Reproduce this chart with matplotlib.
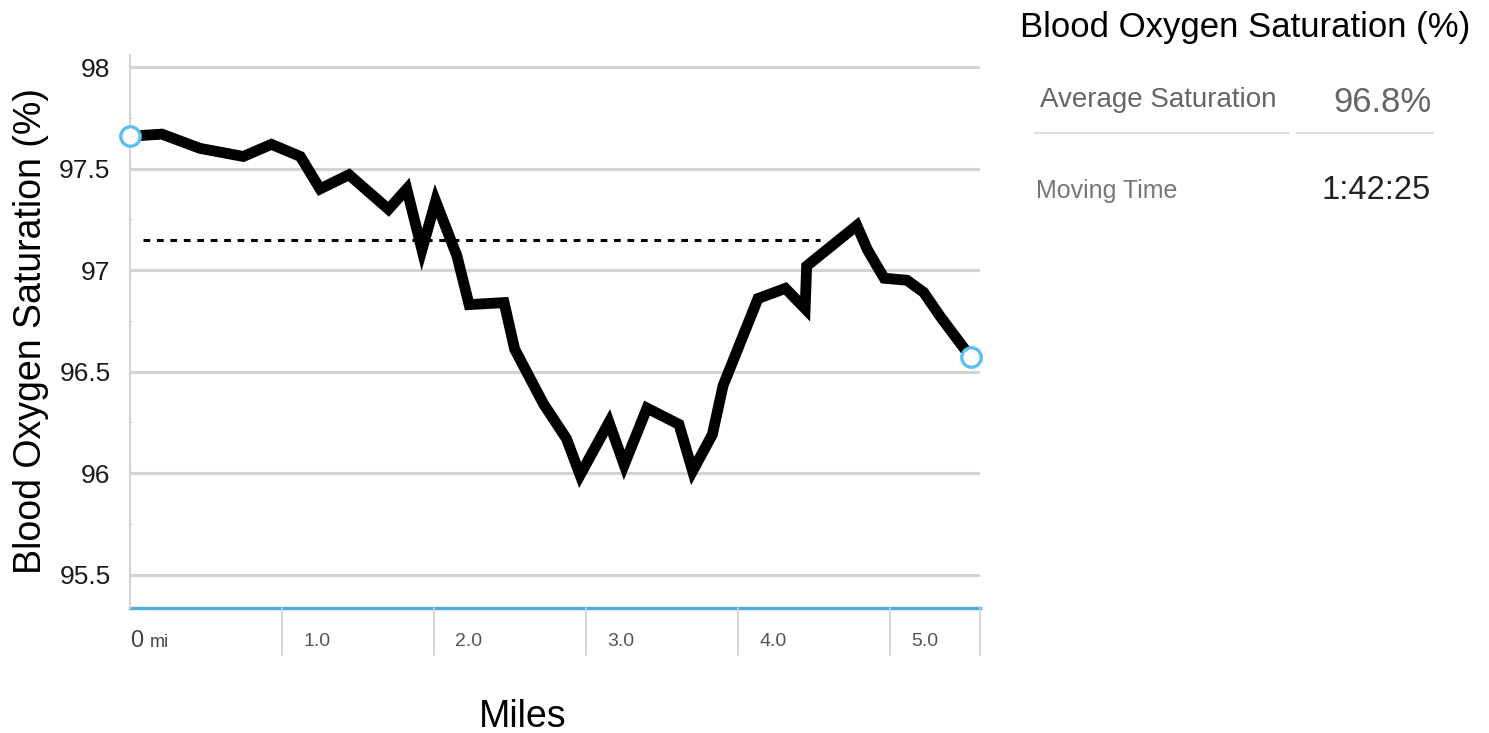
import numpy as np
import matplotlib
matplotlib.use("Agg")
from matplotlib import pyplot as plt

plt.rcParams['font.family'] = ['Liberation Sans', 'DejaVu Sans']

# distance (mi) and SpO2 (%)
miles = [0, 0.21, 0.46, 0.745, 0.93, 1.12, 1.25, 1.44, 1.70, 1.82, 1.92, 2.01,
         2.15, 2.23, 2.46, 2.53, 2.72, 2.87, 2.96, 3.15, 3.25, 3.40, 3.61, 3.70,
         3.83, 3.90, 4.13, 4.31, 4.44, 4.45, 4.78, 4.85, 4.96, 5.11, 5.22, 5.33, 5.53]
spo2 = [97.66, 97.67, 97.60, 97.56, 97.62, 97.56, 97.40, 97.47, 97.30, 97.40,
        97.10, 97.34, 97.07, 96.83, 96.84, 96.61, 96.34, 96.17, 95.99, 96.25,
        96.04, 96.32, 96.24, 96.01, 96.19, 96.43, 96.86, 96.91, 96.81, 97.02,
        97.22, 97.10, 96.96, 96.95, 96.89, 96.77, 96.57]
ref_level = 97.15
ref_span = [0.085, 4.54]
y_ticks = [95.5, 96, 96.5, 97, 97.5, 98]
y_tick_labels = ['95.5', '96', '96.5', '97', '97.5', '98']
x_ticks = [1, 2, 3, 4, 5]
x_tick_labels = ['1.0', '2.0', '3.0', '4.0', '5.0']
x_end = 5.59

W, H = 1489, 733
fig = plt.figure(figsize=(W / 100, H / 100), dpi=100)
ax = fig.add_axes([130 / W, 1 - 608 / H, 850 / W, 553 / H])
ax.set_xlim(0, x_end)
ax.set_ylim(95.335, 98.06)

for s in ['top', 'right', 'bottom']:
    ax.spines[s].set_visible(False)
ax.spines['left'].set_color('#d4d4d4')
ax.spines['left'].set_linewidth(1.5)

for yv in y_ticks:
    ax.axhline(yv, color='#d3d3d3', lw=2.2, zorder=1)

ax.set_yticks(y_ticks)
ax.set_yticklabels(y_tick_labels)
ax.set_yticks(np.arange(95.5, 98.0, 0.25), minor=True)
ax.tick_params(axis='y', which='major', length=0, pad=14, labelsize=19, labelcolor='#1a1a1a')
ax.tick_params(axis='y', which='minor', length=3, direction='inout', color='#cccccc')
ax.set_xticks([])

# blue baseline
ax.axhline(95.335, color='#4fa9da', lw=2.4, zorder=2, clip_on=False)

# tick dividers below axis
trans = ax.get_xaxis_transform()
for xv in x_ticks + [x_end]:
    ax.plot([xv, xv], [0, -0.085], color='#cfcfcf', lw=1.2, transform=trans, clip_on=False)
for xv, lab in zip(x_ticks, x_tick_labels):
    ax.text(xv + 0.14, -0.06, lab, transform=trans, fontsize=14, color='#555555',
            ha='left', va='center')
ax.text(0.0, -0.06, '0', transform=trans, fontsize=17, color='#444444', ha='left', va='center')
ax.text(0.13, -0.062, 'mi', transform=trans, fontsize=13, color='#444444', ha='left', va='center')

# average reference dashed line
ax.plot(ref_span, [ref_level, ref_level], color='black', lw=2.2, ls=(0, (2.2, 2.2)),
        dash_capstyle='butt', zorder=3)

# main line
ax.plot(miles, spo2, color='black', lw=7.8, solid_joinstyle='miter', zorder=4, clip_on=False)
ax.plot([miles[0], miles[-1]], [spo2[0], spo2[-1]], ls='none', marker='o', markersize=14,
        markerfacecolor='white', markeredgecolor='#5bbfef', markeredgewidth=2.4, zorder=5,
        clip_on=False)

ax.set_ylabel('Blood Oxygen Saturation (%)', fontsize=27, labelpad=7)
fig.text(523 / W, 1 - 717 / H, 'Miles', fontsize=27, ha='center', va='center')

# right panel
def fx(px):
    return px / W

def fy(py):
    return 1 - py / H

fig.text(fx(1020), fy(28), 'Blood Oxygen Saturation (%)', fontsize=25, ha='left', va='center')
fig.text(fx(1040), fy(100), 'Average Saturation', fontsize=20, color='#666666', ha='left', va='center')
fig.text(fx(1432), fy(103), '96.8%', fontsize=25, color='#666666', ha='right', va='center')
fig.add_artist(plt.Line2D([fx(1035), fx(1288)], [fy(133), fy(133)], color='#dddddd', lw=1.5))
fig.add_artist(plt.Line2D([fx(1297), fx(1433)], [fy(133), fy(133)], color='#dddddd', lw=1.5))
fig.text(fx(1036), fy(191), 'Moving Time', fontsize=18, color='#777777', ha='left', va='center')
fig.text(fx(1431), fy(190), '1:42:25', fontsize=23.5, color='#222222', ha='right', va='center')

fig.savefig('out.png', dpi=100)
